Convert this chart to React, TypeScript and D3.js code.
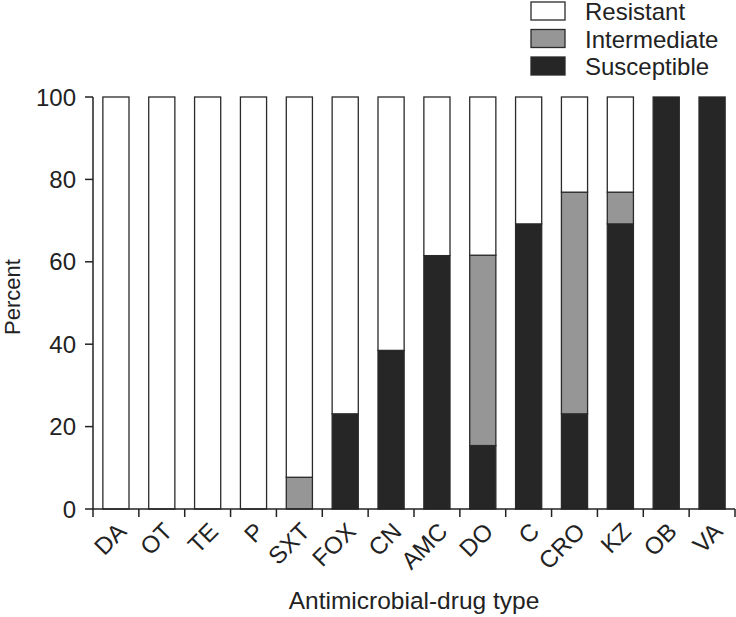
import React from "react";
import * as d3 from "d3";

const categories = ["DA", "OT", "TE", "P", "SXT", "FOX", "CN", "AMC", "DO", "C", "CRO", "KZ", "OB", "VA"];
const susceptible = [0, 0, 0, 0, 0, 23.1, 38.5, 61.5, 15.4, 69.2, 23.1, 69.2, 100, 100];
const intermediate = [0, 0, 0, 0, 7.7, 0, 0, 0, 46.2, 0, 53.8, 7.7, 0, 0];
const resistant = [100, 100, 100, 100, 92.3, 76.9, 61.5, 38.5, 38.4, 30.8, 23.1, 23.1, 0, 0];
const yTicks = [0, 20, 40, 60, 80, 100];
const seriesNames = ["Resistant", "Intermediate", "Susceptible"];
const seriesColors = ["#ffffff", "#969696", "#262626"];

const W = 736, H = 617;
const left = 93, right = 735, top = 97, bottom = 509;
const FONT = "'Liberation Sans', Arial, Helvetica, sans-serif";
const FS = 24;

export default function App() {
  const x = d3.scaleBand<string>().domain(categories).range([left, right]).paddingInner(0.43).paddingOuter(0.215);
  const y = d3.scaleLinear().domain([0, 100]).range([bottom, top]);
  const rows = categories.map((c, i) => ({ cat: c, Susceptible: susceptible[i], Intermediate: intermediate[i], Resistant: resistant[i] }));
  const stack = d3.stack<any>().keys(["Susceptible", "Intermediate", "Resistant"]);
  const layers = stack(rows);
  const colorOf: Record<string, string> = { Resistant: seriesColors[0], Intermediate: seriesColors[1], Susceptible: seriesColors[2] };
  const step = x.step();
  const boundaries = d3.range(categories.length + 1).map((i) => left + i * step);

  return (
    <svg width={W} height={H} style={{ position: "absolute", left: 0, top: 0, background: "#fff" }} fontFamily={FONT}>
      <rect x={0} y={0} width={W} height={H} fill="#fff" />
      {layers.map((layer) =>
        layer.map((d, i) => {
          const h = y(d[0]) - y(d[1]);
          if (h <= 0.01) return null;
          return (
            <rect
              key={layer.key + i}
              x={x(categories[i])!}
              y={y(d[1])}
              width={x.bandwidth()}
              height={h}
              fill={colorOf[layer.key]}
              stroke="#2a2a2a"
              strokeWidth={1.3}
            />
          );
        })
      )}
      {/* y axis */}
      <line x1={left} x2={left} y1={top} y2={bottom} stroke="#222" strokeWidth={1.5} />
      {yTicks.map((t) => (
        <g key={t}>
          <line x1={left - 8} x2={left} y1={y(t)} y2={y(t)} stroke="#222" strokeWidth={1.5} />
          <text x={left - 17} y={y(t)} dy="0.36em" textAnchor="end" fontSize={FS} fill="#222">{t}</text>
        </g>
      ))}
      {/* x axis */}
      <line x1={left} x2={right} y1={bottom} y2={bottom} stroke="#222" strokeWidth={1.5} />
      {boundaries.map((b, i) => (
        <line key={i} x1={b} x2={b} y1={bottom} y2={bottom + 8} stroke="#222" strokeWidth={1.5} />
      ))}
      {categories.map((c) => {
        const cx = x(c)! + x.bandwidth() / 2;
        return (
          <text key={c} transform={`translate(${cx + 12},${bottom + 24}) rotate(-45)`} textAnchor="end" fontSize={FS} fill="#222">{c}</text>
        );
      })}
      <text x={(left + right) / 2} y={609} textAnchor="middle" fontSize={24.5} fill="#222">Antimicrobial-drug type</text>
      <text transform={`translate(19.5,${297}) rotate(-90)`} textAnchor="middle" fontSize={22} fill="#222">Percent</text>
      {/* legend */}
      {seriesNames.map((n, i) => (
        <g key={n} transform={`translate(531,${2 + i * 27.5})`}>
          <rect x={0} y={0} width={34} height={18} fill={seriesColors[i]} stroke="#2a2a2a" strokeWidth={1.3} />
          <text x={54} y={18} fontSize={FS} fill="#222">{n}</text>
        </g>
      ))}
    </svg>
  );
}
